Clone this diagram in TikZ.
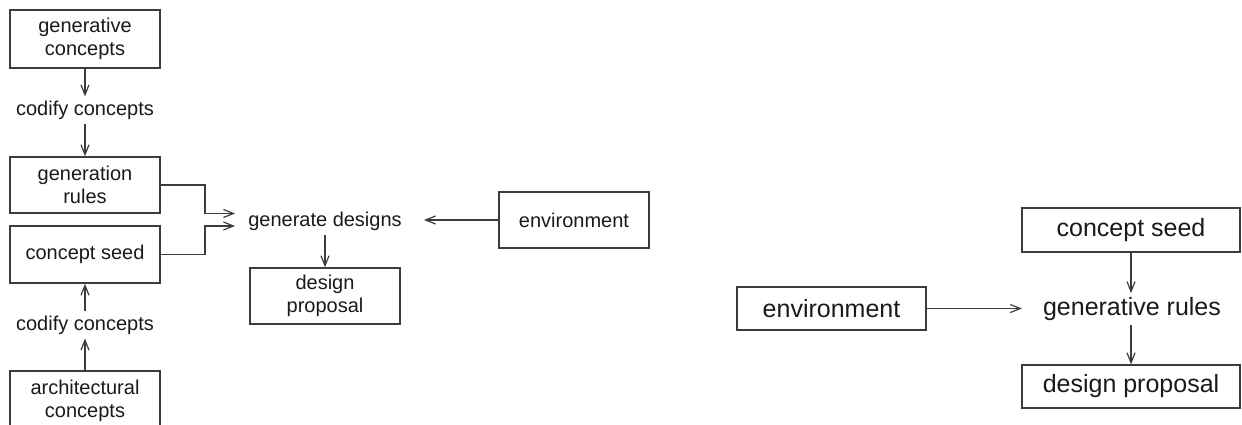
\documentclass[tikz,border=0pt]{standalone}
\usepackage{fontspec}
\setmainfont{Liberation Sans}
\usetikzlibrary{arrows.meta}
\definecolor{ln}{HTML}{3C3C3C}
\definecolor{tx}{HTML}{1A1A1A}
\begin{document}
\begin{tikzpicture}[x=1pt,y=-1pt,
  lbox/.style={draw=ln, line width=1.3pt, inner sep=0pt, align=center, text=tx,
               font=\fontsize{20}{23}\selectfont},
  ltext/.style={inner sep=4pt, text=tx, font=\fontsize{20}{23}\selectfont},
  rbox/.style={draw=ln, line width=1.3pt, inner sep=0pt, align=center, text=tx,
               font=\fontsize{25}{29}\selectfont},
  rtext/.style={inner sep=4pt, text=tx, font=\fontsize{25}{29}\selectfont},
  arr/.style={draw=ln, line width=1.2pt, -{Straight Barb[length=10pt,width=8pt]}}]
\useasboundingbox (0,0) rectangle (1242,425);
\clip (0,0) rectangle (1242,425);
\fill[white] (0,0) rectangle (1242,425);
% left panel
\node[lbox, minimum width=150pt, minimum height=58pt] (gc) at (85,39) {generative\\concepts};
\node[ltext] (cc1) at (85,110) {codify concepts};
\node[lbox, minimum width=150pt, minimum height=56pt] (gr) at (85,185) {generation\\rules};
\node[lbox, minimum width=150pt, minimum height=57pt] (cs) at (85,254.5) {concept seed};
\node[ltext] (cc2) at (85,325) {codify concepts};
\node[lbox, minimum width=150pt, minimum height=60pt] (ac) at (85,401) {architectural\\concepts};
\node[ltext] (gd) at (325,221.5) {generate designs};
\node[lbox, minimum width=150pt, minimum height=56pt] (dp) at (325,296) {design\\proposal};
\node[lbox, minimum width=150pt, minimum height=56pt] (env) at (574,220) {environment};
\coordinate (j1) at (205,185);
\coordinate (j2) at (205,254.5);
\draw[arr] (gc.south) -- (cc1.north);
\draw[arr] (cc1.south) -- (gr.north);
\draw[arr] (ac.north) -- (cc2.south);
\draw[arr] (cc2.north) -- (cs.south);
\draw[arr] (gr.east) -- (j1) |- ([xshift=-9pt,yshift=8pt]gd.west);
\draw[arr] (cs.east) -- (j2) |- ([xshift=-9pt,yshift=-4.5pt]gd.west);
\draw[arr] (gd.south) -- (dp.north);
\draw[arr] (env.west) -- ([xshift=18pt]gd.east |- env.west);
% right panel
\node[rbox, minimum width=218pt, minimum height=44pt] (cs2) at (1131,230) {concept seed};
\node[rtext] (gr2) at (1132,309) {generative rules};
\node[rbox, minimum width=218pt, minimum height=43pt] (dp2) at (1131,386.5) {design proposal};
\node[rbox, minimum width=189pt, minimum height=43pt] (env2) at (831.5,308.5) {environment};
\draw[arr] (cs2.south) -- (cs2.south |- gr2.north);
\draw[arr] (dp2.north |- gr2.south) -- (dp2.north);
\draw[arr] (env2.east) -- ([xshift=-17pt]gr2.west |- env2.east);
\end{tikzpicture}
\end{document}
